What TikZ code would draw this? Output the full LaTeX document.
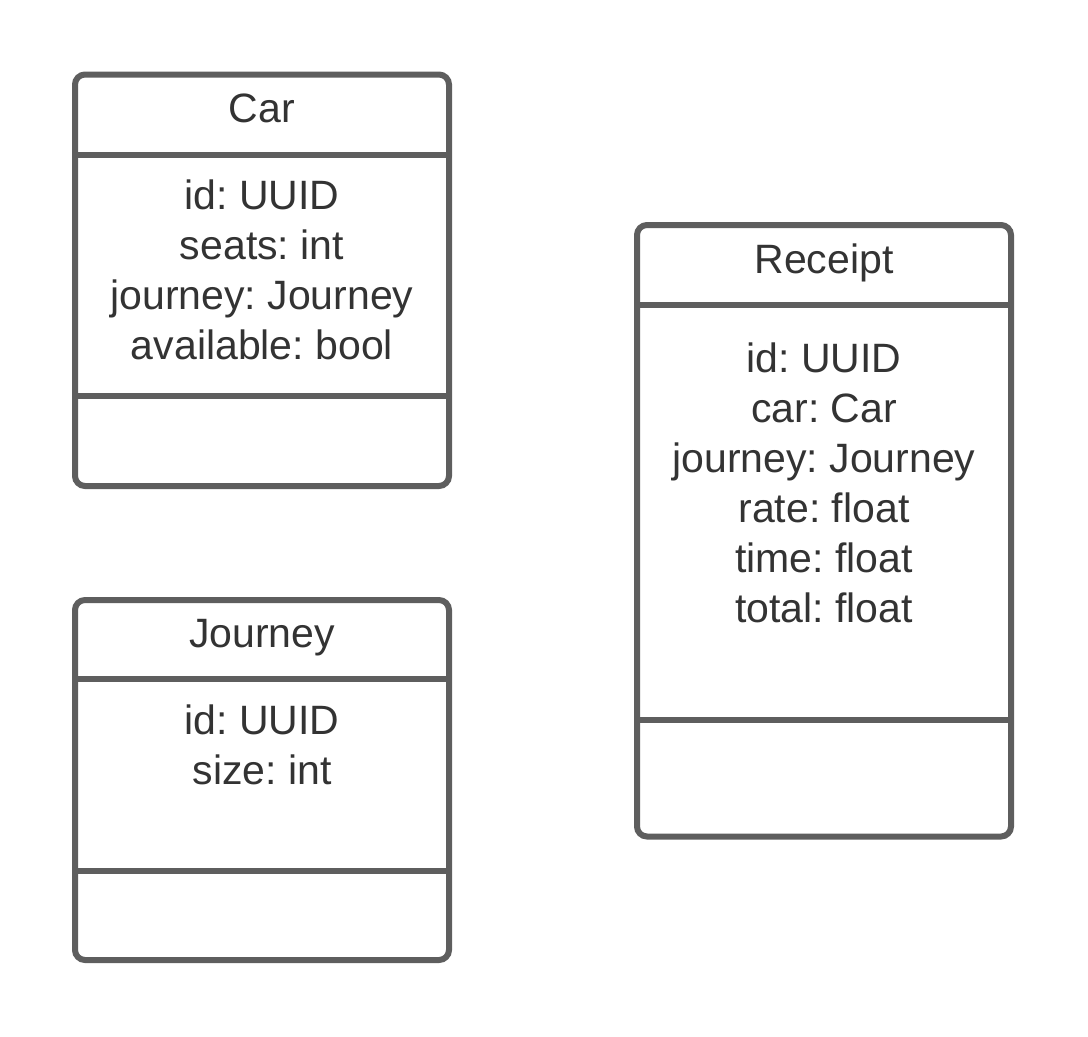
\documentclass[tikz,border=0pt]{standalone}
\usepackage{fontspec}
\setmainfont{Liberation Sans}
\frenchspacing
\definecolor{umlstroke}{HTML}{5E5E5E}
\definecolor{umltext}{HTML}{333333}
\tikzset{
  umlbox/.style={draw=umlstroke, line width=6pt, rounded corners=10pt, fill=white, inner sep=0pt, outer sep=0pt},
  umlline/.style={draw=umlstroke, line width=6pt},
  umltxt/.style={text=umltext, font=\fontsize{41}{50}\selectfont\frenchspacing, anchor=base, inner sep=0pt},
}
\begin{document}
\begin{tikzpicture}[x=1pt,y=-1pt]
\useasboundingbox (0,0) rectangle (1088,1037);
% Car
\node[umlbox, minimum width=374pt, minimum height=411.5pt] (car) at (262,280.25) {};
\draw[umlline] (car.west |- 0,155) -- (car.east |- 0,155);
\draw[umlline] (car.west |- 0,396) -- (car.east |- 0,396);
\node[umltxt] (cart) at (262,122) {Car};
\node[umltxt] (carf1) at (262,209) {id: UUID};
\node[umltxt] (carf2) at (262,259) {seats: int};
\node[umltxt] (carf3) at (262,309) {journey: Journey};
\node[umltxt] (carf4) at (262,359) {available: bool};
% Journey
\node[umlbox, minimum width=374pt, minimum height=360pt] (jour) at (262,780) {};
\draw[umlline] (jour.west |- 0,679) -- (jour.east |- 0,679);
\draw[umlline] (jour.west |- 0,871) -- (jour.east |- 0,871);
\node[umltxt] (jourt) at (262,647) {Journey};
\node[umltxt] (jourf1) at (262,734) {id: UUID};
\node[umltxt] (jourf2) at (262,784) {size: int};
% Receipt
\node[umlbox, minimum width=374pt, minimum height=611.5pt] (rec) at (824,530.75) {};
\draw[umlline] (rec.west |- 0,304.5) -- (rec.east |- 0,304.5);
\draw[umlline] (rec.west |- 0,720) -- (rec.east |- 0,720);
\node[umltxt] (rect) at (824,273.5) {Receipt};
\node[umltxt] (recf1) at (824,372) {id: UUID};
\node[umltxt] (recf2) at (824,422) {car: Car};
\node[umltxt] (recf3) at (824,472) {journey: Journey};
\node[umltxt] (recf4) at (824,522) {rate: float};
\node[umltxt] (recf5) at (824,572) {time: float};
\node[umltxt] (recf6) at (824,622) {total: float};
\end{tikzpicture}
\end{document}
